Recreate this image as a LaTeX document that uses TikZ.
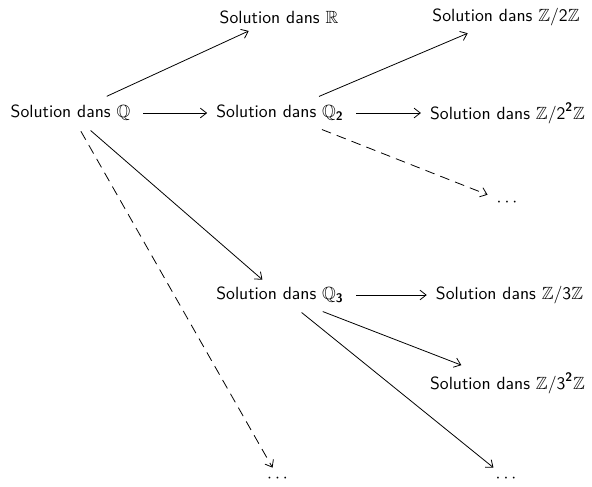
\documentclass[tikz,border=0pt]{standalone}
\usepackage{amsmath,amssymb}
\usetikzlibrary{arrows.meta}
\newcommand{\bsf}[1]{\text{\sffamily\bfseries #1}}
\begin{document}
\begin{tikzpicture}[x=0.566pt,y=-0.566pt,
  lab/.style={font=\sffamily, inner xsep=5pt, inner ysep=4pt},
  arr/.style={-{Straight Barb[length=3.5pt,width=5.5pt]}, line width=0.45pt, shorten <=2pt},
  darr/.style={arr, dash pattern=on 5.5pt off 3.5pt}]
\useasboundingbox (0,0) rectangle (592,486);
\node[lab] (Q) at (70.5,113) {Solution dans $\mathbb{Q}$};
\node[lab] (R) at (279,17) {Solution dans $\mathbb{R}$};
\node[lab] (Q2) at (280,113) {Solution dans $\mathbb{Q}_{\bsf{2}}$};
\node[lab] (Z2) at (506,17) {Solution dans $\mathbb{Z}/\text{\sffamily 2}\mathbb{Z}$};
\node[lab] (Z22) at (507.5,113) {Solution dans $\mathbb{Z}/\text{\sffamily 2}^{\bsf{2}}\mathbb{Z}$};
\node[lab] (D1) at (508.5,203) {$\cdots$};
\node[lab] (Q3) at (280,295) {Solution dans $\mathbb{Q}_{\bsf{3}}$};
\node[lab] (Z3) at (509.5,295) {Solution dans $\mathbb{Z}/\text{\sffamily 3}\mathbb{Z}$};
\node[lab] (Z33) at (507.5,383) {Solution dans $\mathbb{Z}/\text{\sffamily 3}^{\bsf{2}}\mathbb{Z}$};
\node[lab] (D2) at (279,479) {$\cdots$};
\node[lab] (D3) at (507.5,479) {$\cdots$};
\draw[arr] (Q) -- (R);
\draw[arr] (Q) -- (Q2);
\draw[arr] (Q) -- (Q3);
\draw[darr] (Q) -- (D2);
\draw[arr] (Q2) -- (Z2);
\draw[arr] (Q2) -- (Z22);
\draw[darr] (Q2) -- (D1);
\draw[arr] (Q3) -- (Z3);
\draw[arr] (Q3) -- (Z33);
\draw[arr] (Q3) -- (D3);
\end{tikzpicture}
\end{document}
